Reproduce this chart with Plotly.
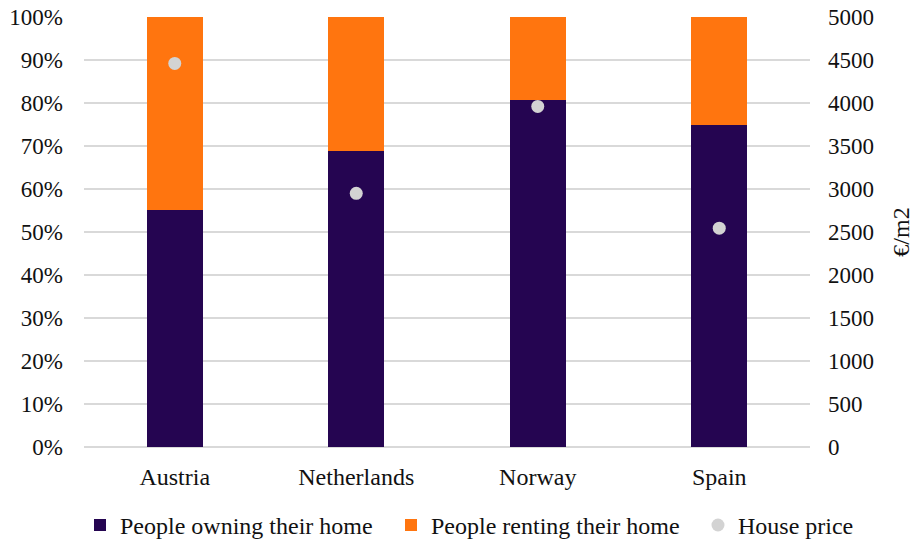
import plotly.graph_objects as go

countries = ["Austria", "Netherlands", "Norway", "Spain"]
owning_pct = [55.1, 68.9, 80.8, 75.0]
renting_pct = [round(100 - v, 1) for v in owning_pct]
house_price = [4460, 2950, 3960, 2545]

FONT = "Liberation Serif, Times New Roman, serif"
FS = 23
FS_BIG = 24
OWN_COLOR = "#250551"
RENT_COLOR = "#FF750F"
PRICE_COLOR = "#D3D3D3"

fig = go.Figure()
fig.add_trace(go.Bar(
    x=countries, y=owning_pct, name="People owning their home",
    marker=dict(color=OWN_COLOR, line=dict(width=0)),
    legend="legend",
))
fig.add_trace(go.Bar(
    x=countries, y=renting_pct, name="People renting their home",
    marker=dict(color=RENT_COLOR, line=dict(width=0)),
    legend="legend2",
))
fig.add_trace(go.Scatter(
    x=countries, y=house_price, name="House price", mode="markers",
    yaxis="y2",
    marker=dict(color=PRICE_COLOR, size=13, line=dict(width=0)),
    legend="legend3",
))


def legend_at(x):
    # one horizontal legend entry below the plot area
    return dict(
        orientation="h", x=x, xanchor="left", y=-0.13, yanchor="top",
        font=dict(family=FONT, size=FS_BIG, color="#111111"),
        itemwidth=30, bgcolor="rgba(0,0,0,0)",
    )


fig.update_layout(
    width=914, height=542,
    margin=dict(l=84, r=104, t=17, b=95, autoexpand=False),
    barmode="stack",
    bargap=0.69,
    plot_bgcolor="white",
    paper_bgcolor="white",
    font=dict(family=FONT, size=FS, color="#111111"),
    showlegend=True,
    legend=legend_at(-0.0055),
    legend2=legend_at(0.4229),
    legend3=legend_at(0.8457),
    xaxis=dict(
        showgrid=False, showline=False, ticks="",
        tickfont=dict(family=FONT, size=FS_BIG),
        ticklabelstandoff=13,
    ),
    yaxis=dict(
        range=[0, 100], dtick=10, ticksuffix="%",
        showgrid=True, gridcolor="#D9D9D9", gridwidth=1.5,
        zeroline=True, zerolinecolor="#D9D9D9", zerolinewidth=1.5,
        showline=False, ticks="", ticklen=0,
        tickfont=dict(family=FONT, size=FS),
        ticklabelstandoff=20,
    ),
    yaxis2=dict(
        overlaying="y", side="right", range=[0, 5000], dtick=500,
        showgrid=False, zeroline=False, showline=False, ticks="",
        tickfont=dict(family=FONT, size=FS),
        ticklabelstandoff=17,
        title=dict(text="€/m2", font=dict(family=FONT, size=24), standoff=23),
    ),
)

fig.write_html("out.html")
